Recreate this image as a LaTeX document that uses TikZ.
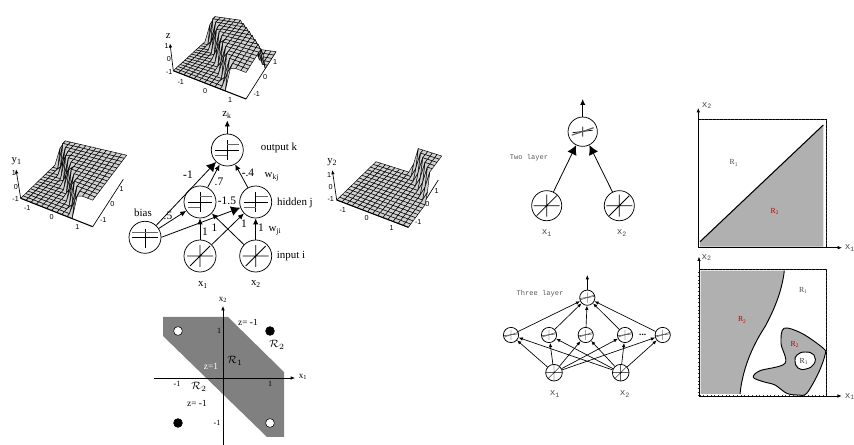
\documentclass[tikz,border=0pt]{standalone}
\usepackage{fontspec}
\setmainfont{Liberation Serif}
\setsansfont{Liberation Sans}
\setmonofont{Liberation Mono}
\usepackage{xcolor}
\usetikzlibrary{arrows.meta,positioning,calc}

\tikzset{
  netlabel/.style={font=\fontsize{8.2}{9}\selectfont, inner sep=0pt},
  weight/.style={font=\fontsize{8.6}{9}\selectfont, inner sep=0pt},
  ticklabel/.style={font=\sffamily\fontsize{5.4}{6}\selectfont, inner sep=0pt},
  monolabel/.style={font=\ttfamily\fontsize{5.3}{6}\selectfont, text=black!65, inner sep=0pt},
  mononame/.style={font=\ttfamily\fontsize{7}{8}\selectfont, text=black!70, inner sep=0pt},
  regionlabel/.style={font=\fontsize{5.8}{6}\selectfont, inner sep=0pt},
  axislabel/.style={font=\fontsize{6.8}{7}\selectfont, inner sep=0pt},
  plotname/.style={font=\fontsize{8}{9}\selectfont, inner sep=0pt},
  unitcirc/.style={draw, circle, inner sep=0pt, line width=0.55pt, fill=white},
  stepunit/.style={unitcirc, minimum size=24pt, path picture={
    \begin{scope}[shift={(path picture bounding box.center)}]
      \draw[line width=0.6pt] (-12,0) -- (12,0) (0,-10) -- (0,10);
      \draw[line width=0.7pt, black!60] (0,-6) -- (12,-6) (-12,5) -- (0,5);
    \end{scope}}},
  biasunit/.style={unitcirc, minimum size=24pt, path picture={
    \begin{scope}[shift={(path picture bounding box.center)}]
      \draw[line width=0.6pt] (-13,0) -- (13,0) (0,-8) -- (0,11);
      \draw[line width=0.7pt, black!60] (-13,-5) -- (13,-5);
    \end{scope}}},
  lineunit/.style={unitcirc, minimum size=#1*24pt, path picture={
    \begin{scope}[shift={(path picture bounding box.center)}, scale=#1]
      \draw[line width=#1*0.6pt] (-13,0) -- (13,0) (0,-11) -- (0,11) (-10,10) -- (10,-10);
    \end{scope}}},
  slopeunit/.style={unitcirc, minimum size=#1*22pt, path picture={
    \begin{scope}[shift={(path picture bounding box.center)}, scale=#1]
      \draw[line width=#1*0.55pt] (-10,1) -- (10,-1.5) (0,-5) -- (0,5);
      \draw[line width=#1*0.8pt, black!65] (-11,3.5) -- (11,-4);
    \end{scope}}},
  bigarrow/.style={-{Latex[length=7pt,width=7.5pt]}, line width=0.6pt},
  midarrow/.style={-{Latex[length=4.5pt,width=4pt]}, line width=0.6pt},
  thinarrow/.style={-{Latex[length=3.2pt,width=2.6pt]}, line width=0.5pt},
  meshface/.style={fill=black!18, draw=black, line width=0.36pt, line join=round},
  frameline/.style={draw=black, line width=0.6pt},
  frameticks/.style={draw=black!80, line width=1.1pt, dash pattern=on 0.4pt off 2.4pt},
  curveline/.style={draw=black, line width=0.7pt},
}

% one surface: corners A B C D (x,y pairs) and its lift function
\newcommand{\meshat}[2]{({bil(#1,#2,\mAx,\mBx,\mCx,\mDx)},{bil(#1,#2,\mAy,\mBy,\mCy,\mDy)-26.5*\mLift(#1,#2)})}
\newcommand{\surfmesh}[9]{%
  \def\mAx{#1}\def\mAy{#2}\def\mBx{#3}\def\mBy{#4}\def\mCx{#5}\def\mCy{#6}\def\mDx{#7}\def\mDy{#8}\def\mLift{#9}%
  \foreach \j in {13,12,...,0}{
    \foreach \i in {13,12,...,0}{
      \filldraw[meshface] \meshat{\i/14}{\j/14} -- \meshat{(\i+1)/14}{\j/14}
        -- \meshat{(\i+1)/14}{(\j+1)/14} -- \meshat{\i/14}{(\j+1)/14} -- cycle;
    }
  }
}

\begin{document}
\begin{tikzpicture}[x=0.75pt, y=-0.75pt,
  declare function={
    bil(\p,\q,\ma,\mb,\mc,\md)=(1-\p)*(1-\q)*\ma+\p*(1-\q)*\mb+\p*\q*\mc+(1-\p)*\q*\md;
    ramp(\p)=max(0,min(1,\p/0.06));
    liftA(\p,\q)=ramp(\p-0.73+0.7*\q);
    liftB(\p,\q)=ramp(\p-1.55+\q);
    liftZ(\p,\q)=ramp(\p-0.73+0.7*\q)*(1-ramp(\p-1.55+\q));
  }]
  \useasboundingbox (0,0) rectangle (854,445);

  % Surface z
  \coordinate (zbase) at (173.3,70.7);
  \coordinate (zfront) at (246,99);
  \coordinate (ztop) at (170,43.3);
  \coordinate (zside) at (276,51.7);
  \draw[thinarrow] (zbase) -- (ztop);
  \draw[line width=0.5pt] (zfront) -- (zside);
  \surfmesh{173.3}{70.7}{246}{99}{276}{51.7}{205}{41.7}{liftZ}
  \draw[line width=0.8pt] (zbase) -- (zfront);
  \foreach \px/\py/\lbl [count=\n] in {166.7/46/1,169/59.3/0,169.3/71.7/-1,180.7/81.7/-1,205/90.7/0,230/100/1,256.7/94/-1,265/76.7/0,275/61.7/1}
    \node[ticklabel] (zt\n) at (\px,\py) {\lbl};
  \node[plotname] (zname) at (168.3,35.7) {z};

  % Surface y1
  \coordinate (yabase) at (20.7,198.3);
  \coordinate (yafront) at (92.7,226.7);
  \coordinate (yatop) at (16,169.3);
  \coordinate (yaside) at (123.3,179.3);
  \draw[thinarrow] (yabase) -- (yatop);
  \draw[line width=0.5pt] (yafront) -- (yaside);
  \surfmesh{20.7}{198.3}{92.7}{226.7}{126.7}{181.7}{55}{165}{liftA}
  \draw[line width=0.8pt] (yabase) -- (yafront);
  \foreach \px/\py/\lbl [count=\n] in {14/173/1,16/186.7/0,15.7/199/-1,27.3/208.3/-1,51.7/217.3/0,77.3/227.3/1,103.3/220/-1,112.3/204/0,121.7/189/1}
    \node[ticklabel] (yat\n) at (\px,\py) {\lbl};
  \node[plotname] (yaname) at (16.7,161.7) {y\textsubscript{1}};

  % Surface y2
  \coordinate (ybbase) at (336.7,200);
  \coordinate (ybfront) at (408.3,227.3);
  \coordinate (ybtop) at (332.3,170);
  \coordinate (ybside) at (438.3,180);
  \draw[thinarrow] (ybbase) -- (ybtop);
  \draw[line width=0.5pt] (ybfront) -- (ybside);
  \surfmesh{336.7}{200}{408.3}{227.3}{441.7}{182.5}{376}{161.7}{liftB}
  \draw[line width=0.8pt] (ybbase) -- (ybfront);
  \foreach \px/\py/\lbl [count=\n] in {329/175/1,330.7/187.3/0,330.7/199.3/-1,342.7/210/-1,366.7/218.3/0,391.7/228.3/1,418.3/221.7/-1,427.3/204.3/0,436.7/190.7/1}
    \node[ticklabel] (ybt\n) at (\px,\py) {\lbl};
  \node[plotname] (ybname) at (332.3,162.3) {y\textsubscript{2}};

  % Network in the middle
  \node[stepunit] (output) at (227.3,150) {};
  \node[stepunit] (hiddenA) at (200,202) {};
  \node[stepunit] (hiddenB) at (255.7,202) {};
  \node[biasunit] (bias) at (145,237.3) {};
  \node[lineunit=1] (inputA) at (200,256) {};
  \node[lineunit=1] (inputB) at (255.7,256) {};
  \coordinate (outtip) at (227.3,120.5);

  \draw[midarrow] (output) -- (outtip);
  \draw[bigarrow] (bias) -- (output);
  \draw[midarrow] (bias) -- (hiddenA);
  \draw[bigarrow] (bias.east) -- (hiddenB);
  \draw[midarrow] (hiddenA) -- (output);
  \draw[midarrow] (hiddenB) -- (output);
  \draw[midarrow] (inputA) -- (hiddenA);
  \draw[midarrow] (inputA) -- (hiddenB);
  \draw[midarrow] (inputB) -- (hiddenA);
  \draw[midarrow] (inputB) -- (hiddenB);

  \node[netlabel] (zk) at (227,115) {z\textsubscript{k}};
  \node[netlabel] (outname) at (279,148) {output k};
  \node[netlabel] (hidname) at (295,203) {hidden j};
  \node[netlabel] (inname) at (291,256) {input i};
  \node[netlabel] (biasname) at (143,213) {bias};
  \node[netlabel] (xa) at (203,285) {x\textsubscript{1}};
  \node[netlabel] (xb) at (256,284) {x\textsubscript{2}};
  \node[netlabel] (wkj) at (272,177) {w\textsubscript{kj}};
  \node[netlabel] (wji) at (275,231) {w\textsubscript{ji}};
  \foreach \px/\py/\lbl [count=\n] in {188/175/{\textbf{-}1},219/182/.7,248/173/{\textbf{-}.4},227/201/{\textbf{-}1.5},168/215.5/.5,205/232/1,214.5/228/1,244/224/1,261/228/1}
    \node[weight] (wt\n) at (\px,\py) {\lbl};

  % Decision regions below the network
  \fill[black!50] (163,317) -- (228,317) -- (284,372) -- (284,437) -- (267,437) -- (163,336) -- cycle;
  \coordinate (xaxL) at (154,378);
  \coordinate (xaxR) at (295,378);
  \coordinate (yaxB) at (223,445);
  \coordinate (yaxT) at (223,306);
  \draw[thinarrow] (xaxL) -- (xaxR);
  \draw[thinarrow] (yaxB) -- (yaxT);
  \node[circle, draw, fill=white, minimum size=6.6pt, inner sep=0pt] (ptA) at (178,331) {};
  \node[circle, draw, fill=white, minimum size=6.6pt, inner sep=0pt] (ptB) at (270,423) {};
  \node[circle, draw, fill=black, minimum size=6.6pt, inner sep=0pt] (ptC) at (270,331) {};
  \node[circle, draw, fill=black, minimum size=6.6pt, inner sep=0pt] (ptD) at (178,423) {};
  \node[axislabel] (regxb) at (223,300) {x\textsubscript{2}};
  \node[axislabel] (regxa) at (303,377) {x\textsubscript{1}};
  \node[netlabel, font=\fontsize{7}{8}\selectfont] (zmA) at (248,322) {z= \textbf{-}1};
  \node[netlabel, font=\fontsize{7}{8}\selectfont] (zmB) at (197,403) {z= \textbf{-}1};
  \node[netlabel, font=\fontsize{7}{8}\selectfont, text=white] (zone) at (211,366) {z=1};
  \node[netlabel] (rega) at (235,361) {$\mathcal{R}_1$};
  \node[netlabel] (regb) at (277,345) {$\mathcal{R}_2$};
  \node[netlabel] (regc) at (199,387) {$\mathcal{R}_2$};
  \foreach \px/\py/\lbl [count=\n] in {219/331/1,177/384/{\textbf{-}1},270/384/1,217/423/{\textbf{-}1}}
    \node[netlabel, font=\fontsize{6}{7}\selectfont] (rt\n) at (\px,\py) {\lbl};

  % Two layer
  \node[slopeunit=1] (twoout) at (582.7,131.7) {};
  \node[lineunit=0.94] (twoa) at (546.7,205.7) {};
  \node[lineunit=0.94] (twob) at (619.3,205.7) {};
  \coordinate (twotip) at (582.7,99);
  \draw[midarrow] (twoout) -- (twotip);
  \draw[bigarrow] (twoa) -- (twoout);
  \draw[bigarrow] (twob) -- (twoout);
  \node[monolabel] (twoname) at (529,158) {Two layer};
  \node[mononame] (twoxa) at (547,233) {x\textsubscript{1}};
  \node[mononame] (twoxb) at (622,233) {x\textsubscript{2}};

  % Three layer
  \node[slopeunit=0.52] (threeout) at (587.3,297.7) {};
  \foreach \px/\nm in {511/a,549/b,585.7/c,625/d,662.7/e}
    \node[slopeunit=0.52] (hid\nm) at (\px,335) {};
  \node[lineunit=0.52] (threea) at (554,372.7) {};
  \node[lineunit=0.52] (threeb) at (620.7,372.7) {};
  \coordinate (threetip) at (587.3,275);
  \draw[thinarrow] (threeout) -- (threetip);
  \foreach \nm in {a,b,c,d,e}{
    \draw[thinarrow] (hid\nm) -- (threeout);
    \draw[thinarrow] (threea) -- (hid\nm);
    \draw[thinarrow] (threeb) -- (hid\nm);
  }
  \node[font=\bfseries\fontsize{7}{7}\selectfont, inner sep=0pt] (threedots) at (642.7,335) {...};
  \node[monolabel] (threename) at (540,293.3) {Three layer};
  \node[mononame] (threexa) at (555,394) {x\textsubscript{1}};
  \node[mononame] (threexb) at (625,394) {x\textsubscript{2}};

  % Box of the two layer net
  \coordinate (boxAsw) at (698.3,247.7);
  \coordinate (boxAne) at (826.7,119.3);
  \coordinate (boxAx) at (842,247.7);
  \coordinate (boxAy) at (698.3,108);
  \fill[black!31] (700,241.7) -- (823.3,125) -- (823.3,246.7) -- (700,246.7) -- cycle;
  \draw[line width=0.8pt] (700,241.7) -- (823.3,125);
  \draw[frameline] (boxAsw) rectangle (boxAne);
  \draw[frameticks] (boxAsw) rectangle (boxAne);
  \draw[thinarrow] (boxAsw) -- (boxAx);
  \draw[thinarrow] (boxAsw) -- (boxAy);
  \node[mononame] (boxAxa) at (850,248) {x\textsubscript{1}};
  \node[mononame] (boxAxb) at (707,105.7) {x\textsubscript{2}};
  \node[regionlabel, text=black!70] (boxAra) at (734,163) {R\textsubscript{1}};
  \node[regionlabel, text=red!75!black] (boxArb) at (775,211.7) {R\textsubscript{2}};

  % Box of the three layer net
  \coordinate (boxBsw) at (699,396);
  \coordinate (boxBne) at (826.7,269.3);
  \coordinate (boxBx) at (841.7,396);
  \coordinate (boxBy) at (699,256.7);
  \fill[black!31] (700.5,270.7) -- (784.3,270.7)
    .. controls (782,292) and (773,312) .. (765,326.7)
    .. controls (755,342) and (743,365) .. (740,394) -- (700.5,394) -- cycle;
  \draw[curveline] (784.3,270.7)
    .. controls (782,292) and (773,312) .. (765,326.7)
    .. controls (755,342) and (743,365) .. (740,394);
  \filldraw[curveline, fill=black!31] plot[smooth cycle, tension=0.55] coordinates {
    (784,328.3) (801.7,333.3) (823.3,348.3) (825,355) (818.3,373.3) (806.7,393.3)
    (798.3,395) (786.7,393.3) (775,385) (763.3,381.7) (753.3,377.3) (760,370.7)
    (785,363.3) (781,343.3)};
  \filldraw[curveline, fill=white] plot[smooth cycle, tension=0.8] coordinates {
    (797,355) (805,352) (814,355) (814,364) (806,369) (798,368) (795,361)};
  \draw[frameline] (boxBsw) rectangle (boxBne);
  \draw[frameticks] (boxBsw) rectangle (boxBne);
  \draw[thinarrow] (boxBsw) -- (boxBx);
  \draw[thinarrow] (boxBsw) -- (boxBy);
  \node[mononame] (boxBxa) at (850,396.7) {x\textsubscript{1}};
  \node[mononame] (boxBxb) at (706.7,257.3) {x\textsubscript{2}};
  \node[regionlabel, text=black!70] (boxBra) at (803.3,290.7) {R\textsubscript{1}};
  \node[regionlabel, text=red!75!black] (boxBrb) at (742.3,320) {R\textsubscript{2}};
  \node[regionlabel, text=red!75!black] (boxBrc) at (795,344.3) {R\textsubscript{2}};
  \node[regionlabel, text=black!80] (boxBrd) at (804,361.7) {R\textsubscript{1}};
\end{tikzpicture}
\end{document}
